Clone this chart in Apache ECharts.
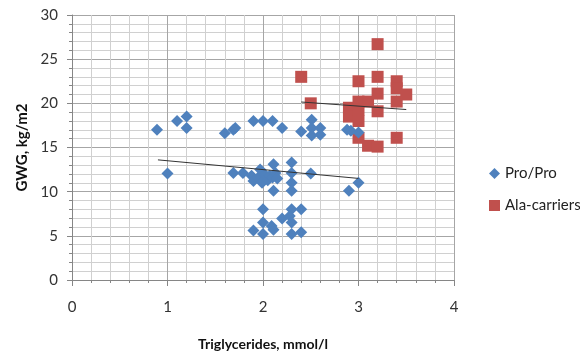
<!DOCTYPE html>
<html>
<head>
<meta charset="utf-8">
<script src="https://cdn.jsdelivr.net/npm/echarts@6/dist/echarts.min.js"></script>
<style>
  html, body { margin: 0; padding: 0; background: #fff; }
  #chart { width: 580px; height: 356px; }
</style>
</head>
<body>
<div id="chart"></div>
<script>
// Triglycerides (mmol/l) vs gestational weight gain (kg/m2)
const proProX = [0.89, 1.0, 1.1, 1.2, 1.2, 1.6, 1.69, 1.71, 1.9, 2.0, 2.1, 2.2, 2.4, 2.51, 2.51, 2.51, 2.6, 2.6, 2.88, 2.92, 3.0,
  1.69, 1.79, 1.88, 1.9, 1.95, 1.97, 1.99, 2.02, 2.05, 2.07, 2.1, 2.11, 2.13, 2.15, 2.11, 2.3, 2.3, 2.3, 2.3, 2.5, 2.9, 3.0,
  2.0, 2.0, 1.9, 2.0, 2.09, 2.11, 2.2, 2.3, 2.28, 2.3, 2.3, 2.4, 2.4];
const proProY = [17.0, 12.05, 18.0, 18.5, 17.2, 16.6, 17.0, 17.2, 18.0, 18.0, 18.0, 17.2, 16.8, 18.15, 17.2, 16.35, 17.2, 16.45, 17.0, 16.9, 16.7,
  12.1, 12.1, 11.8, 11.2, 11.6, 12.5, 11.0, 11.95, 11.3, 11.8, 11.6, 13.1, 12.1, 11.5, 10.1, 13.3, 12.1, 11.0, 10.1, 12.05, 10.1, 11.0,
  8.0, 6.5, 5.6, 5.2, 6.1, 5.7, 6.95, 8.0, 7.25, 6.5, 5.2, 8.0, 5.4];

const alaX = [2.4, 2.5, 2.9, 2.9, 3.0, 3.0, 3.0, 3.0, 3.0, 3.1, 3.1, 3.2, 3.2, 3.2, 3.2, 3.2, 3.4, 3.4, 3.4, 3.4, 3.5];
const alaY = [23.0, 20.0, 19.5, 18.5, 22.5, 20.2, 19.3, 18.0, 16.1, 20.2, 15.2, 26.7, 23.0, 21.1, 19.1, 15.1, 22.5, 21.7, 20.2, 16.1, 21.0];

// linear trend lines, end points
const proTrendX = [0.9, 3.0];
const proTrendY = [13.6, 11.5];
const alaTrendX = [2.4, 3.5];
const alaTrendY = [20.15, 19.3];

const xTicks = { min: 0, max: 4, step: 1 };
const yTicks = { min: 0, max: 30, step: 5 };

const zip = (xs, ys) => xs.map((x, i) => [x, ys[i]]);

const FONT = 'Lato, "Liberation Sans", sans-serif';
const axisGrey = '#868686';

const chart = echarts.init(document.getElementById('chart'), null, { renderer: 'canvas' });
chart.setOption({
  animation: false,
  backgroundColor: '#ffffff',
  textStyle: { fontFamily: FONT },
  grid: { left: 72, right: 126, top: 15, bottom: 75, containLabel: false },
  legend: {
    orient: 'vertical',
    left: 484,
    top: 161,
    itemGap: 17,
    itemWidth: 11,
    itemHeight: 11,
    textStyle: { fontFamily: FONT, fontSize: 15, color: '#222' },
    data: [
      { name: 'Pro/Pro', icon: 'diamond' },
      { name: 'Ala-carriers', icon: 'rect' }
    ]
  },
  xAxis: {
    type: 'value',
    min: xTicks.min, max: xTicks.max, interval: xTicks.step,
    name: 'Triglycerides, mmol/l',
    nameLocation: 'middle',
    nameGap: 57,
    nameTextStyle: { fontFamily: FONT, fontSize: 14, fontWeight: 'bold', color: '#111' },
    axisLine: { show: true, onZero: false, lineStyle: { color: axisGrey } },
    axisTick: { show: true, length: 6, lineStyle: { color: axisGrey } },
    minorTick: { show: true, splitNumber: 5, length: 3, lineStyle: { color: axisGrey } },
    axisLabel: { margin: 20, fontSize: 15, color: '#333', fontFamily: FONT },
    splitLine: { show: true, lineStyle: { color: '#a6a6a6', width: 1 } },
    minorSplitLine: { show: true, lineStyle: { color: '#d0d0d0', width: 1 } }
  },
  yAxis: {
    type: 'value',
    min: yTicks.min, max: yTicks.max, interval: yTicks.step,
    name: 'GWG, kg/m2',
    nameLocation: 'middle',
    nameGap: 42,
    nameRotate: 90,
    nameTextStyle: { fontFamily: FONT, fontSize: 15, fontWeight: 'bold', color: '#111' },
    axisLine: { show: true, onZero: false, lineStyle: { color: axisGrey } },
    axisTick: { show: true, length: 5, lineStyle: { color: axisGrey } },
    minorTick: { show: true, splitNumber: 5, length: 3, lineStyle: { color: axisGrey } },
    axisLabel: { margin: 14, fontSize: 15, color: '#333', fontFamily: FONT },
    splitLine: { show: true, lineStyle: { color: '#a6a6a6', width: 1 } },
    minorSplitLine: { show: true, lineStyle: { color: '#d0d0d0', width: 1 } }
  },
  series: [
    {
      name: 'Pro/Pro',
      type: 'scatter',
      symbol: 'diamond',
      symbolSize: 12,
      itemStyle: { color: '#4f81bd', opacity: 1 },
      data: zip(proProX, proProY),
      z: 3
    },
    {
      name: 'Ala-carriers',
      type: 'scatter',
      symbol: 'rect',
      symbolSize: 12,
      itemStyle: { color: '#c0504d', opacity: 1 },
      data: zip(alaX, alaY),
      z: 2
    },
    {
      name: 'Pro/Pro trend',
      type: 'line',
      data: zip(proTrendX, proTrendY),
      symbol: 'none',
      silent: true,
      lineStyle: { color: '#333', width: 1 },
      z: 4
    },
    {
      name: 'Ala trend',
      type: 'line',
      data: zip(alaTrendX, alaTrendY),
      symbol: 'none',
      silent: true,
      lineStyle: { color: '#333', width: 1 },
      z: 4
    }
  ]
});
</script>
</body>
</html>
